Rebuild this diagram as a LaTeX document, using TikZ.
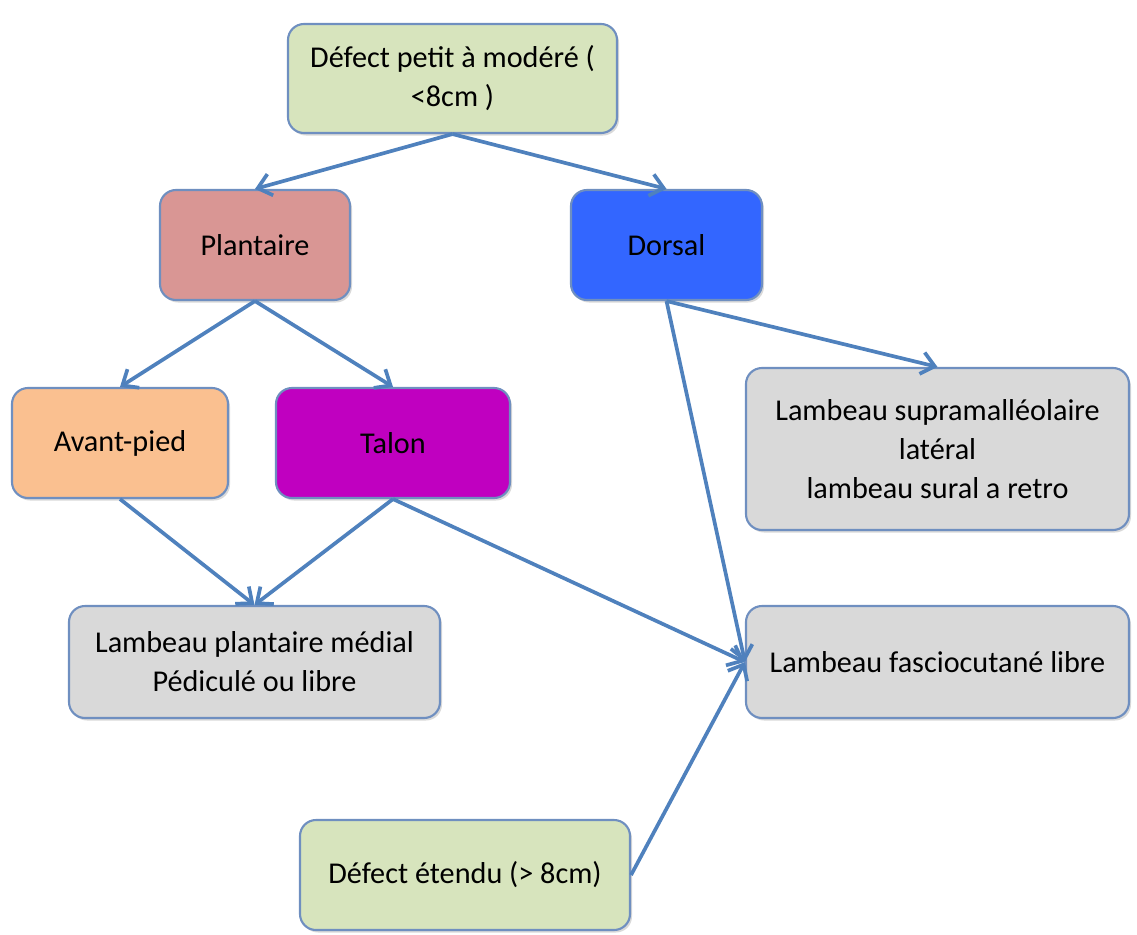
\documentclass[tikz,border=0pt]{standalone}
\usepackage{fontspec}
\setmainfont{Carlito}
\usetikzlibrary{arrows.meta,shadows}
\definecolor{bordc}{HTML}{6F8FC0}
\definecolor{arrc}{HTML}{4F81BD}
\definecolor{cgreen}{HTML}{D7E4BD}
\definecolor{cpink}{HTML}{D99694}
\definecolor{cblue}{HTML}{3366FF}
\definecolor{corange}{HTML}{FAC090}
\definecolor{cpurple}{HTML}{C000C0}
\definecolor{cgrey}{HTML}{D9D9D9}
\tikzset{
  box/.style={draw=bordc, line width=1.2pt, rounded corners=0.32cm, align=center,
    font=\fontsize{17.2}{22.2}\selectfont, inner sep=0pt,
    drop shadow={shadow xshift=0.04cm, shadow yshift=-0.05cm, opacity=0.25, fill=black!60}},
  conn/.style={draw=arrc, line width=2.1pt, -{Straight Barb[length=0.26cm, width=0.44cm, line width=2.1pt]}}
}
\begin{document}
\begin{tikzpicture}[x=0.02cm, y=-0.02cm]
\useasboundingbox (0,0) rectangle (1137,934);
\node[box, fill=cgreen, minimum width=329*0.02cm, minimum height=109*0.02cm] (top) at (452.5,78.5) {Défect petit à modéré (\\<8cm )};
\node[box, fill=cpink, minimum width=190*0.02cm, minimum height=110*0.02cm] (plant) at (255,245) {Plantaire};
\node[box, fill=cblue, minimum width=191*0.02cm, minimum height=110*0.02cm] (dors) at (666.5,245) {Dorsal};
\node[box, fill=corange, minimum width=216*0.02cm, minimum height=110*0.02cm] (avant) at (120,443) {Avant-pied};
\node[box, fill=cpurple, minimum width=234*0.02cm, minimum height=110*0.02cm] (talon) at (393,443) {Talon};
\node[box, fill=cgrey, minimum width=383*0.02cm, minimum height=162*0.02cm] (supra) at (937.5,449) {Lambeau supramalléolaire\\latéral\\lambeau sural a retro};
\node[box, fill=cgrey, minimum width=371*0.02cm, minimum height=112*0.02cm] (medial) at (254.5,662) {Lambeau plantaire médial\\Pédiculé ou libre};
\node[box, fill=cgrey, minimum width=383*0.02cm, minimum height=112*0.02cm] (fasc) at (937.5,662) {Lambeau fasciocutané libre};
\node[box, fill=cgreen, minimum width=330*0.02cm, minimum height=110*0.02cm] (etendu) at (465,875) {Défect étendu (> 8cm)};
\draw[conn] (top.south) -- (plant.north);
\draw[conn] (top.south) -- (dors.north);
\draw[conn] (plant.south) -- (avant.north);
\draw[conn] (plant.south) -- (talon.north);
\draw[conn] (avant.south) -- (medial.north);
\draw[conn] (talon.south) -- (medial.north);
\draw[conn] (talon.south) -- (fasc.west);
\draw[conn] (dors.south) -- (fasc.west);
\draw[conn] (dors.south) -- (supra.north);
\draw[conn] (etendu.east) -- (fasc.west);
\end{tikzpicture}
\end{document}
